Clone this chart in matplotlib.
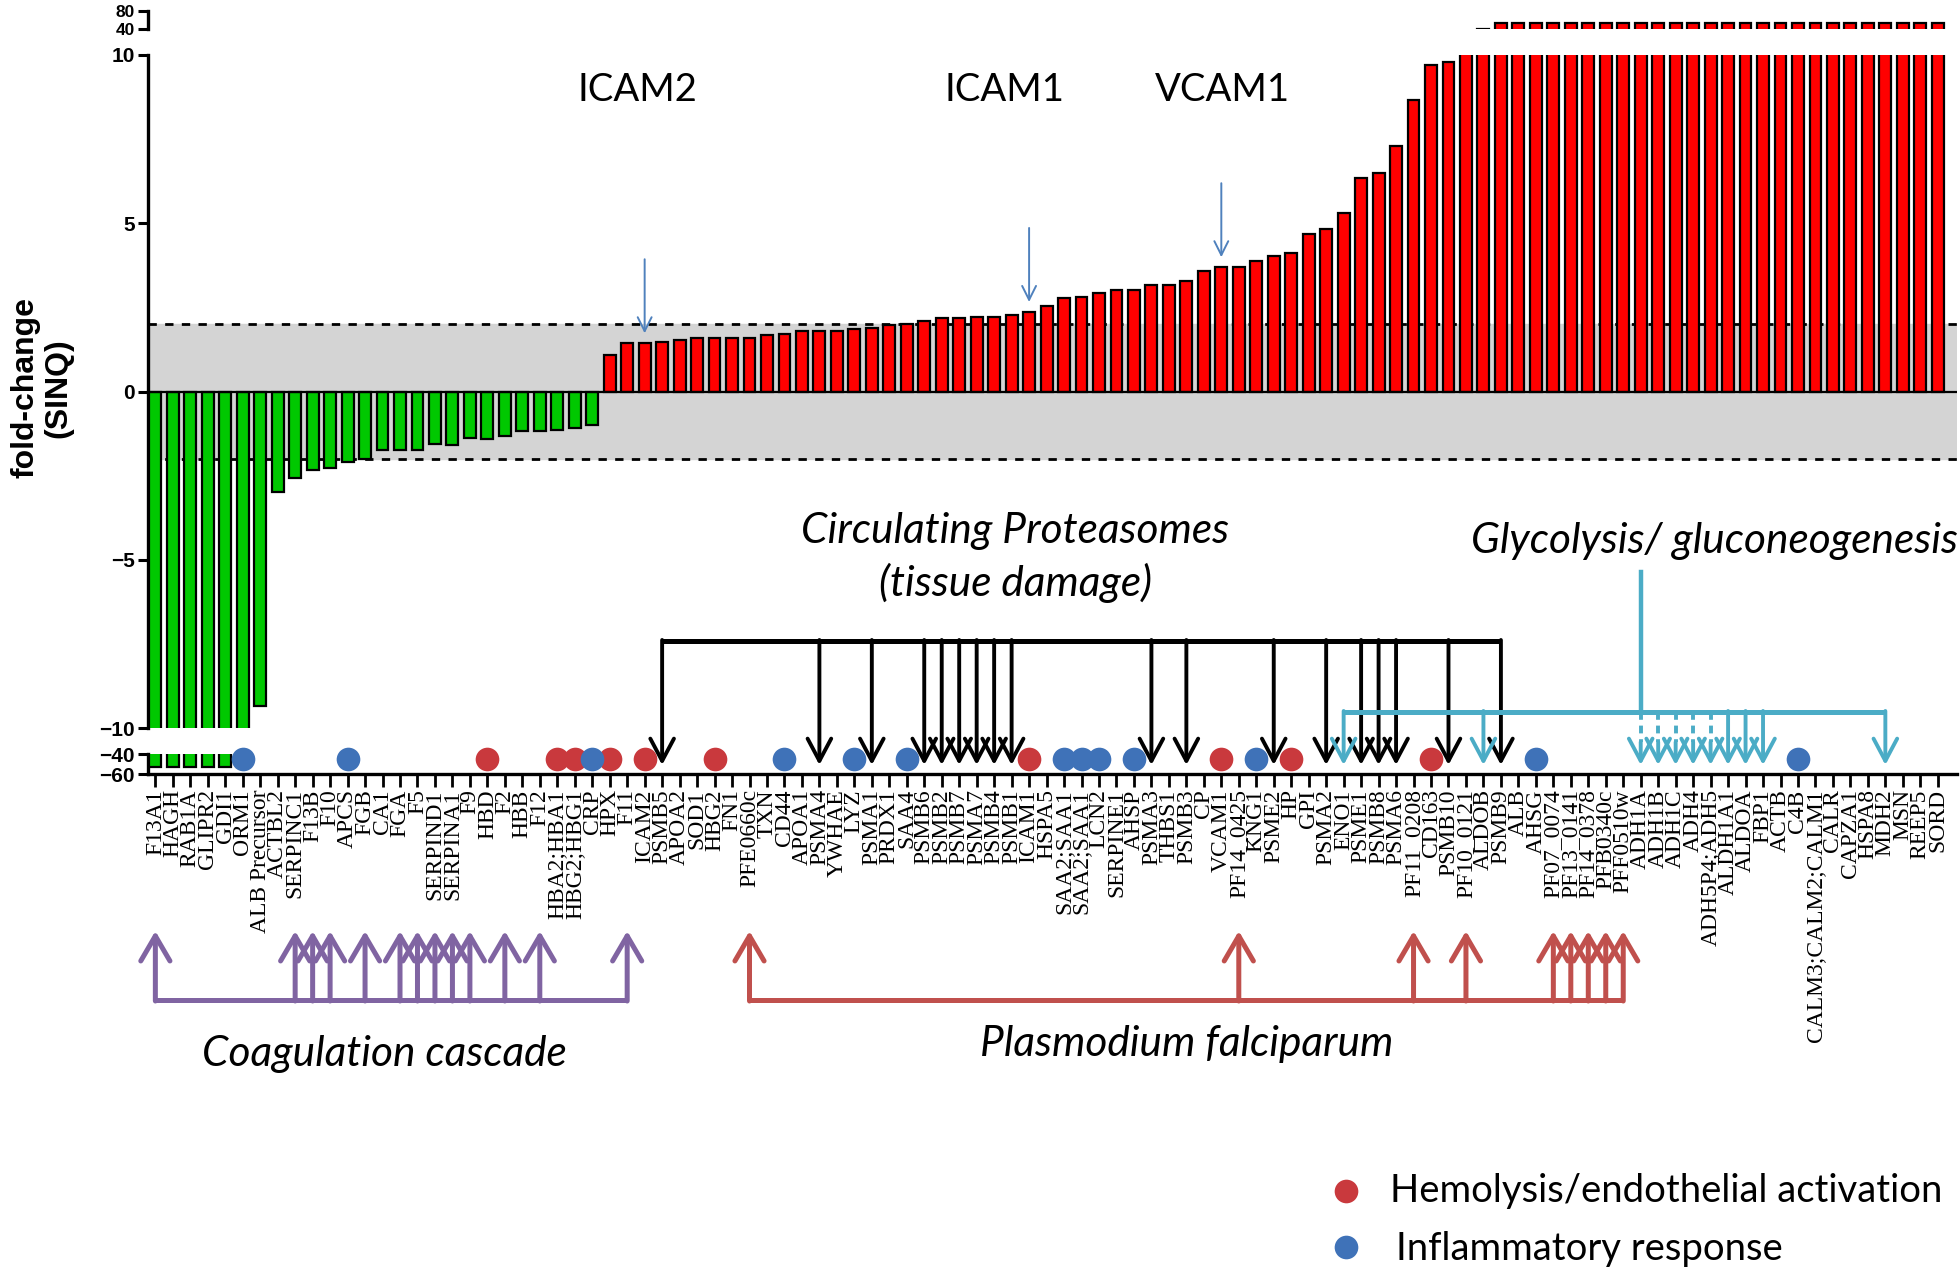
import matplotlib
matplotlib.use("Agg")
import matplotlib.pyplot as plt
import numpy as np

# ---------------- data ----------------
genes = ["F13A1", "HAGH", "RAB1A", "GLIPR2", "GDI1", "ORM1", "ALB Precursor", "ACTBL2", "SERPINC1", "F13B",
         "F10", "APCS", "FGB", "CA1", "FGA", "F5", "SERPIND1", "SERPINA1", "F9", "HBD",
         "F2", "HBB", "F12", "HBA2;HBA1", "HBG2;HBG1", "CRP", "HPX", "F11", "ICAM2", "PSMB5",
         "APOA2", "SOD1", "HBG2", "FN1", "PFE0660c", "TXN", "CD44", "APOA1", "PSMA4", "YWHAE",
         "LYZ", "PSMA1", "PRDX1", "SAA4", "PSMB6", "PSMB2", "PSMB7", "PSMA7", "PSMB4", "PSMB1",
         "ICAM1", "HSPA5", "SAA2;SAA1", "SAA2;SAA1", "LCN2", "SERPINE1", "AHSP", "PSMA3", "THBS1", "PSMB3",
         "CP", "VCAM1", "PF14_0425", "KNG1", "PSME2", "HP", "GPI", "PSMA2", "ENO1", "PSME1",
         "PSMB8", "PSMA6", "PF11_0208", "CD163", "PSMB10", "PF10_0121", "ALDOB", "PSMB9", "ALB", "AHSG",
         "PF07_0074", "PF13_0141", "PF14_0378", "PFB0340c", "PFF0510w", "ADH1A", "ADH1B", "ADH1C", "ADH4", "ADH5P4;ADH5",
         "ALDH1A1", "ALDOA", "FBP1", "ACTB", "C4B", "CALM3;CALM2;CALM1", "CALR", "CAPZA1", "HSPA8", "MDH2",
         "MSN", "REEP5", "SORD"]

fold_change = [-53, -53, -53, -53, -53, -53, -9.36, -3.0, -2.56, -2.32,
               -2.27, -2.10, -2.0, -1.75, -1.75, -1.75, -1.55, -1.6, -1.38, -1.41,
               -1.33, -1.18, -1.16, -1.13, -1.08, -1.01, 1.07, 1.43, 1.43, 1.48,
               1.53, 1.60, 1.60, 1.58, 1.60, 1.69, 1.70, 1.79, 1.79, 1.79,
               1.85, 1.90, 1.99, 2.02, 2.10, 2.17, 2.17, 2.21, 2.22, 2.26,
               2.36, 2.55, 2.77, 2.81, 2.92, 3.03, 3.02, 3.17, 3.17, 3.28,
               3.59, 3.69, 3.69, 3.89, 4.04, 4.11, 4.68, 4.83, 5.30, 6.34,
               6.49, 7.31, 8.66, 9.70, 9.80, 12, 41, 53, 53, 53,
               53, 53, 53, 53, 53, 53, 53, 53, 53, 53,
               53, 53, 53, 53, 53, 53, 53, 53, 53, 53,
               53, 53, 53]

coagulation = ["F13A1", "SERPINC1", "F13B", "F10", "FGB", "FGA", "F5", "SERPIND1",
               "SERPINA1", "F9", "F2", "F12", "F11"]
plasmodium = ["PFE0660c", "PF14_0425", "PF11_0208", "PF10_0121", "PF07_0074",
              "PF13_0141", "PF14_0378", "PFB0340c", "PFF0510w"]
proteasome = ["PSMB5", "PSMA4", "PSMA1", "PSMB6", "PSMB2", "PSMB7", "PSMA7", "PSMB4", "PSMB1",
              "PSMA3", "PSMB3", "PSME2", "PSMA2", "PSME1", "PSMB8", "PSMA6", "PSMB10", "PSMB9"]
glycolysis = ["ENO1", "ALDOB", "ADH1A", "ADH1B", "ADH1C", "ADH4", "ADH5P4;ADH5",
              "ALDH1A1", "ALDOA", "FBP1", "MDH2"]
glycolysis_dashed = ["ADH1A", "ADH1B", "ADH1C", "ADH4", "ADH5P4;ADH5"]
hemolysis = ["HBD", "HBA2;HBA1", "HBG2;HBG1", "HPX", "ICAM2", "HBG2", "ICAM1", "VCAM1", "HP", "CD163"]
inflammatory = ["ORM1", "APCS", "CRP", "CD44", "LYZ", "SAA4", "SAA2;SAA1", "LCN2", "AHSP",
                "KNG1", "AHSG", "C4B"]
highlighted = ["ICAM2", "ICAM1", "VCAM1"]


def idx(names):
    return [i for i, g in enumerate(genes) if g in names]


# ---------------- figure ----------------
W, H = 1960, 1274
fig = plt.figure(figsize=(W / 100, H / 100), dpi=100)
fig.patch.set_facecolor("white")


def fx(p):
    return p / W


def fy(p):
    return 1 - p / H


LEFT, RIGHT = 147.5, 1957
x = np.arange(len(genes))
XLIM = (-0.45, len(genes) - 1 + 1.1)
bar_colors = ["#00C800" if v < 0 else "#FF0000" for v in fold_change]

ax_main = fig.add_axes([fx(LEFT), fy(728), fx(RIGHT - LEFT), (728 - 55) / H])
ax_top = fig.add_axes([fx(LEFT), fy(29), fx(RIGHT - LEFT), 18 / H])
ax_bot = fig.add_axes([fx(LEFT), fy(774), fx(RIGHT - LEFT), 20 / H])

for ax in (ax_main, ax_top, ax_bot):
    ax.bar(x, fold_change, width=0.68, color=bar_colors, edgecolor="black",
           linewidth=1.6, zorder=3)
    ax.set_xlim(XLIM)
    ax.patch.set_alpha(0)
    for s in ("top", "right", "bottom"):
        ax.spines[s].set_visible(False)
    ax.spines["left"].set_linewidth(2.4)
    ax.tick_params(axis="y", length=7, width=2.2, pad=2)
    ax.tick_params(axis="x", bottom=False, labelbottom=False)

ax_main.set_ylim(-10, 10)
ax_main.set_yticks([-10, -5, 0, 5, 10])
ax_main.axhspan(-2, 2, color="#D4D4D4", zorder=0)
ax_main.axhline(2, color="black", lw=2, ls=(0, (3, 3)), zorder=1)
ax_main.axhline(-2, color="black", lw=2, ls=(0, (3, 3)), zorder=1)
ax_main.axhline(0, color="black", lw=1.6, zorder=4)

ax_top.set_ylim(40, 80)
ax_top.set_yticks([40, 80])

ax_bot.set_ylim(-60, -40)
ax_bot.set_yticks([-60, -40])
ax_bot.spines["bottom"].set_visible(True)
ax_bot.spines["bottom"].set_linewidth(2.4)
ax_bot.set_xticks(x)
ax_bot.set_xticklabels(genes, rotation=90, family="Liberation Serif", fontsize=17)
ax_bot.tick_params(axis="x", bottom=True, labelbottom=True, length=9, width=2, pad=2)

for ax, size in ((ax_main, 15), (ax_top, 12.5), (ax_bot, 15)):
    for lab in ax.get_yticklabels():
        lab.set_family("Liberation Sans")
        lab.set_fontweight("bold")
        lab.set_fontsize(size)

fig.text(fx(42), fy(388), "fold-change\n(SINQ)", rotation=90, ha="center", va="center",
         family="Liberation Sans", fontweight="bold", fontsize=23, linespacing=1.1)

# ---------------- overlay: category x, pixel y ----------------
ov = fig.add_axes([fx(LEFT), 0, fx(RIGHT - LEFT), 1], zorder=5)
ov.set_xlim(XLIM)
ov.set_ylim(H, 0)
ov.axis("off")

DOT_S = 290
ov.scatter(idx(hemolysis), [759] * len(idx(hemolysis)), s=DOT_S, color="#C9393D", zorder=2,
           linewidths=0)
ov.scatter(idx(inflammatory), [759] * len(idx(inflammatory)), s=DOT_S, color="#3F72B8", zorder=2,
           linewidths=0)


def arrow(xp, y_from, y_to, color, lw, hl, hw, ls="-"):
    ov.annotate("", xy=(xp, y_to), xytext=(xp, y_from),
                arrowprops=dict(arrowstyle=f"->,head_length={hl},head_width={hw}",
                                color=color, lw=lw, ls=ls, shrinkA=0, shrinkB=0),
                zorder=3)


# coagulation cascade (purple, up)
purple = "#8064A2"
cx = idx(coagulation)
ov.plot([min(cx), max(cx)], [1000, 1000], color=purple, lw=3.6, solid_capstyle="butt", zorder=3)
for c in cx:
    arrow(c, 1001, 931, purple, 3.6, 1.8, 1.05)

# plasmodium falciparum (red, up)
pred = "#C0504D"
px_ = idx(plasmodium)
ov.plot([min(px_), max(px_)], [1000, 1000], color=pred, lw=3.6, solid_capstyle="butt", zorder=3)
for c in px_:
    arrow(c, 1001, 931, pred, 3.6, 1.8, 1.05)

# proteasomes (black, down)
bx = idx(proteasome)
ov.plot([min(bx), max(bx)], [641, 641], color="black", lw=3.6, solid_capstyle="butt", zorder=3)
for c in bx:
    arrow(c, 640, 765, "black", 2.8, 1.6, 0.85)

# glycolysis (cyan, down)
cyan = "#4BACC6"
gx = idx(glycolysis)
gd = idx(glycolysis_dashed)
trunk = idx(["ADH1A"])[0]
ov.plot([min(gx), max(gx)], [712, 712], color=cyan, lw=3.6, solid_capstyle="butt", zorder=3)
ov.plot([trunk, trunk], [572, 712], color=cyan, lw=3.2, zorder=3)
for c in gx:
    if c in gd:
        ov.plot([c, c], [712, 742], color=cyan, lw=2.8, ls=(0, (2, 1.5)), zorder=3)
        arrow(c, 742, 765, cyan, 2.8, 1.6, 0.85)
    else:
        arrow(c, 711, 765, cyan, 2.8, 1.6, 0.85)

# ---------------- highlighted adhesion molecules ----------------
for c in idx(highlighted):
    v = fold_change[c]
    ax_main.annotate("", xy=(c, v + 0.3), xytext=(c, v + 2.5),
                     arrowprops=dict(arrowstyle="->,head_length=1.0,head_width=0.5",
                                     color="#4F81BD", lw=1.4, shrinkA=0, shrinkB=0),
                     zorder=6)

# ---------------- texts (pixel coords) ----------------
pix = fig.add_axes([0, 0, 1, 1], zorder=10)
pix.set_xlim(0, W)
pix.set_ylim(H, 0)
pix.axis("off")

lab_font = dict(family="Lato", fontsize=27.5, ha="center", va="center")
pix.text(637, 90, "ICAM2", **lab_font)
pix.text(1004, 90, "ICAM1", **lab_font)
pix.text(1222, 90, "VCAM1", **lab_font)

grp_font = dict(family="Lato", fontsize=30.5, ha="center", va="center", style="italic")
pix.text(1015, 531, "Circulating Proteasomes", **grp_font)
pix.text(1015, 583, "(tissue damage)", **grp_font)
pix.text(1714, 541, "Glycolysis/ gluconeogenesis", **grp_font)
pix.text(384, 1054, "Coagulation cascade", **grp_font)
pix.text(1187, 1044, "Plasmodium falciparum", **grp_font)

# legend
pix.scatter([1346], [1191], s=DOT_S, color="#C9393D", linewidths=0)
pix.scatter([1346], [1247], s=DOT_S, color="#3F72B8", linewidths=0)
pix.text(1390, 1191, "Hemolysis/endothelial activation", family="Lato", fontsize=27.5,
         ha="left", va="center")
pix.text(1396, 1249, "Inflammatory response", family="Lato", fontsize=27.5,
         ha="left", va="center")

fig.savefig("out.png", dpi=100, facecolor="white")
